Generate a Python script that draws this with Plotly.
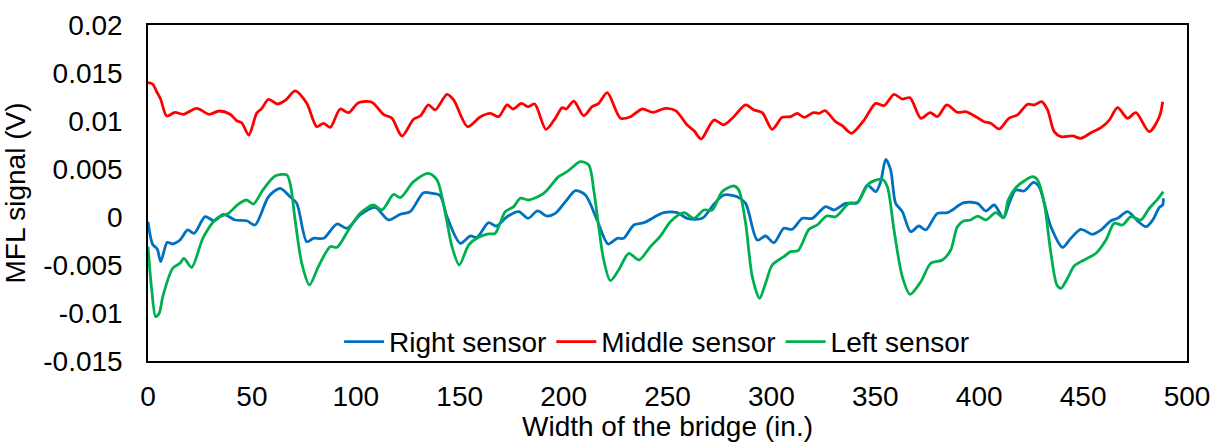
import plotly.graph_objects as go

# ---- data ----
right_x = [0, 2.2, 4.5, 6.1, 9.3, 11.7, 15.4, 19.1, 22.2, 27.5, 31.8, 36.3, 41.9, 47.5, 51.5, 58, 63.6, 68.4, 71.6,
           76.4, 79.6, 84.5, 90.9, 95.7, 102.1, 109.3, 115.8, 121.4, 126.2, 132.6, 137, 140.5, 143.9, 150.3, 155.1,
           158.3, 163.9, 167.6, 172.8, 178.4, 182.9, 187.5, 192, 196, 200.9, 205.7, 210.5, 216.1, 221.4, 225.8,
           228.9, 233.8, 238.6, 248.2, 254.7, 259.5, 266.7, 272.3, 277.1, 283.6, 287.6, 293.2, 297.2, 301.2, 306,
           310, 314.9, 319.7, 326.1, 330.1, 335.7, 341.4, 346.2, 350.2, 352.6, 355, 357.4, 359.8, 363, 367, 371,
           374.3, 379.9, 384.7, 392.7, 399.2, 403.2, 407.2, 411.7, 414.4, 417.6, 421.6, 426.1, 428.8, 434.5, 440.1,
           444.1, 448.9, 454.6, 458.6, 463.4, 466.6, 471.4, 476.3, 480.3, 483.5, 486.7, 488.3, 488.6]
right_y = [-0.0005, -0.00284, -0.00336, -0.00465, -0.00264, -0.00281, -0.0024, -0.00135, -0.0017, 0.00003, -0.00039,
           0.00028, -0.00031, -0.00039, -0.00083, 0.00211, 0.00299, 0.00211, 0.00142, -0.00257, -0.00222, -0.00222,
           -0.00073, -0.00118, 0.00021, 0.001, -0.00031, 0.00028, 0.00056, 0.00253, 0.00245, 0.00225, 0.00003,
           -0.00274, -0.00198, -0.00212, -0.00059, -0.00094, 0.00003, 0.00056, -0.00014, 0.00063, 0.0001, 0.00038,
           0.0016, 0.00274, 0.00229, -0.00031, -0.00281, -0.00222, -0.00222, -0.00083, -0.00059, 0.00045, 0.00045,
           -0.00014, -0.00014, 0.00132, 0.00229, 0.00211, 0.00142, -0.0024, -0.00198, -0.00268, -0.00118, -0.00128,
           -0.00014, -0.00014, 0.00108, 0.00073, 0.00142, 0.00149, 0.00333, 0.00264, 0.00368, 0.006, 0.00489,
           0.00142, 0.00056, -0.00153, -0.00094, -0.00135, 0.00038, 0.00045, 0.00149, 0.00142, 0.00063, 0.00125,
           -0.0001, 0.00142, 0.00281, 0.00271, 0.00361, 0.00316, -0.00101, -0.00316, -0.00222, -0.00128, -0.0018,
           -0.00135, -0.00039, -0.00014, 0.00056, -0.00042, -0.00101, -0.00031, 0.001, 0.00125, 0.00195]

middle_x = [0, 2.2, 4.2, 6.1, 9.0, 13, 17, 23.4, 29.4, 34.2, 39.5, 42.7, 45.1, 48.5, 52.3, 54.8, 58, 62.3, 66.3,
            70.8, 76.4, 81.2, 84.5, 87.7, 92.5, 96.5, 101.3, 107.7, 113.3, 117.4, 122.2, 127.8, 131, 135, 138.2,
            143.9, 147.1, 153.8, 160, 164.7, 168.7, 172.8, 175.7, 179.7, 182.9, 186.1, 191.5, 196, 199.3, 201.3,
            204.9, 209.7, 213.7, 216.9, 221, 227.4, 232.2, 237.8, 243.1, 249, 253.9, 259.5, 262.7, 266.2, 272.3,
            277, 281.9, 287.6, 291.6, 295.6, 300.4, 305.2, 309.2, 312.4, 315.7, 320.2, 322.9, 325.8, 330.9, 334.1,
            338.5, 344.6, 350.2, 354.2, 359, 363, 366.7, 371.9, 376.4, 379.9, 384.4, 389.5, 393.5, 398.4, 402.4,
            405.6, 409.6, 414.4, 418.4, 423.3, 426.5, 430, 432.9, 436.1, 439.3, 444.9, 448.9, 453.8, 458.6, 462.6,
            466.6, 471.4, 475.4, 481.8, 486.7, 488.3]
middle_y = [0.0140, 0.01385, 0.01305, 0.01226, 0.01052, 0.0109, 0.0107, 0.01132, 0.0107, 0.01104, 0.0107, 0.01003,
            0.00982, 0.00854, 0.0108, 0.01132, 0.01226, 0.01177, 0.01219, 0.01313, 0.01184, 0.00941, 0.00976,
            0.00934, 0.01125, 0.01087, 0.01191, 0.01195, 0.0107, 0.01028, 0.00844, 0.01018, 0.01052, 0.01167,
            0.01115, 0.01278, 0.01219, 0.00941, 0.01045, 0.0108, 0.01045, 0.01167, 0.01125, 0.01184, 0.01149,
            0.01177, 0.00913, 0.01028, 0.01139, 0.01125, 0.01208, 0.01055, 0.01149, 0.01184, 0.01295, 0.01028,
            0.01045, 0.01125, 0.0109, 0.01132, 0.01108, 0.00958, 0.009, 0.00813, 0.0101, 0.0096, 0.01045, 0.01167,
            0.01115, 0.01087, 0.00913, 0.01038, 0.01045, 0.0108, 0.01038, 0.01087, 0.0108, 0.01108, 0.00993,
            0.00951, 0.00872, 0.0101, 0.01184, 0.0116, 0.01278, 0.01229, 0.01243, 0.01028, 0.01087, 0.01045,
            0.01167, 0.0109, 0.01097, 0.01045, 0.00993, 0.00976, 0.00917, 0.0103, 0.01063, 0.01174, 0.01167,
            0.01201, 0.01115, 0.00889, 0.00837, 0.00844, 0.0082, 0.00878, 0.0093, 0.0101, 0.01139, 0.01028,
            0.01087, 0.00889, 0.01045, 0.01201]

left_x = [0, 1.8, 3.7, 5.4, 7.1, 11.9, 15.4, 17.3, 21, 26.6, 33.1, 38.7, 43.5, 47.5, 50.7, 55.5, 61.2, 66.8, 68.7,
          70.8, 74, 77.7, 82, 87.7, 90.9, 96.5, 102.1, 108.5, 112.6, 118.2, 121.4, 127.8, 135, 139.1, 143.1, 146.3,
          149.8, 154.3, 159.1, 163.9, 167.1, 171.9, 176, 179.2, 183.2, 190.4, 197.6, 201.7, 208.1, 212.1, 214.5,
          216.9, 219.3, 222.5, 226.5, 231.4, 236.2, 241.8, 246.6, 251.4, 257.9, 262.7, 267.5, 271.5, 276.3, 281.9,
          284.3, 287.6, 290.8, 294.3, 297.2, 300.4, 306, 309.2, 312.8, 318.1, 322.1, 326.6, 330.9, 337.3, 341.4,
          347, 353.4, 355.8, 359, 363, 366.7, 371.9, 376.7, 382.3, 386.3, 389.5, 392.7, 395.9, 399.2, 403.2, 408,
          411.7, 414, 417.6, 421.6, 425.7, 428.1, 431.3, 434.5, 437.4, 439.3, 442.5, 445.7, 450.5, 456.2, 461, 465,
          469, 473, 477.8, 481.8, 485.8, 488.6]
left_y = [-0.00309, -0.0076, -0.01038, -0.01003, -0.0083, -0.00534, -0.00482, -0.0043, -0.00524, -0.00212, -0.00014,
          0.00038, 0.00135, 0.00177, 0.00135, 0.00288, 0.00427, 0.00438, 0.00316, -0.00031, -0.00482, -0.00708,
          -0.00517, -0.00309, -0.00316, -0.00135, 0.00038, 0.00125, 0.00073, 0.00236, 0.00201, 0.00368, 0.00455,
          0.00385, 0.00038, -0.00309, -0.005, -0.00292, -0.00212, -0.00177, -0.0017, 0.00056, 0.00108, 0.00195,
          0.00177, 0.00247, 0.0042, 0.00472, 0.00576, 0.00542, 0.00281, -0.00101, -0.00448, -0.00663, -0.00552,
          -0.00378, -0.00448, -0.00309, -0.00198, -0.00049, 0.00045, -0.00014, 0.00073, 0.00073, 0.00264, 0.00323,
          0.00281, -0.00066, -0.00622, -0.00847, -0.00691, -0.005, -0.00413, -0.00361, -0.00351, -0.00128,
          -0.00083, 0.0001, 0.00003, 0.00142, 0.00153, 0.00351, 0.00393, 0.00316, -0.00135, -0.00622, -0.00805,
          -0.00674, -0.00482, -0.00448, -0.00344, -0.00101, -0.00039, -0.00031, 0.0001, -0.00031, 0.00045,
          -0.00007, 0.0018, 0.00305, 0.00375, 0.0042, 0.00385, 0.00142, -0.00378, -0.00708, -0.00743, -0.00639,
          -0.0051, -0.00448, -0.00378, -0.0024, -0.00066, -0.00083, 0.00003, -0.00031, 0.0009, 0.00184, 0.00264]

series_names = ["Right sensor", "Middle sensor", "Left sensor"]
series_colors = ["#0070C0", "#FF0000", "#00B050"]

y_tickvals = [0.02, 0.015, 0.01, 0.005, 0, -0.005, -0.01, -0.015]
y_ticktext = ["0.02", "0.015", "0.01", "0.005", "0", "-0.005", "-0.01", "-0.015"]
x_tickvals = [0, 50, 100, 150, 200, 250, 300, 350, 400, 450, 500]

FONT = "Liberation Sans, Arial, sans-serif"
FS = 28

fig = go.Figure()
for name, xs, ys, col in zip(series_names, [right_x, middle_x, left_x], [right_y, middle_y, left_y], series_colors):
    fig.add_trace(go.Scatter(x=xs, y=ys, mode="lines", name=name,
                             line=dict(color=col, width=2.8, shape="spline", smoothing=0.8)))

fig.update_layout(
    width=1225, height=442,
    margin=dict(l=148, r=38, t=25, b=81, autoexpand=False),
    paper_bgcolor="white", plot_bgcolor="white",
    font=dict(family=FONT, size=FS, color="black"),
    showlegend=True,
    legend=dict(orientation="h", x=0.49, y=0.057, xanchor="center", yanchor="middle",
                bgcolor="rgba(0,0,0,0)", font=dict(size=FS), itemwidth=40, tracegroupgap=0),
)
fig.update_xaxes(range=[0, 500], tickvals=x_tickvals, showgrid=False, zeroline=False, automargin=False,
                 showline=True, linecolor="black", linewidth=1.5, mirror=True, ticks="",
                 ticklabelstandoff=10,
                 title=dict(text="Width of the bridge (in.)", font=dict(size=FS), standoff=0))
fig.update_yaxes(range=[-0.015, 0.02], tickvals=y_tickvals, ticktext=y_ticktext, showgrid=False,
                 zeroline=False, showline=True, linecolor="black", linewidth=1.5, mirror=True, ticks="",
                 ticklabelstandoff=18, automargin=False,
                 title=dict(text="MFL signal (V)", font=dict(size=FS), standoff=10))

# remove the browser's default 8px body margin so the figure sits at the page origin
fig.write_html("out.html", config={"displayModeBar": False},
               post_script="document.body.style.margin='0';document.body.style.overflow='hidden';")
